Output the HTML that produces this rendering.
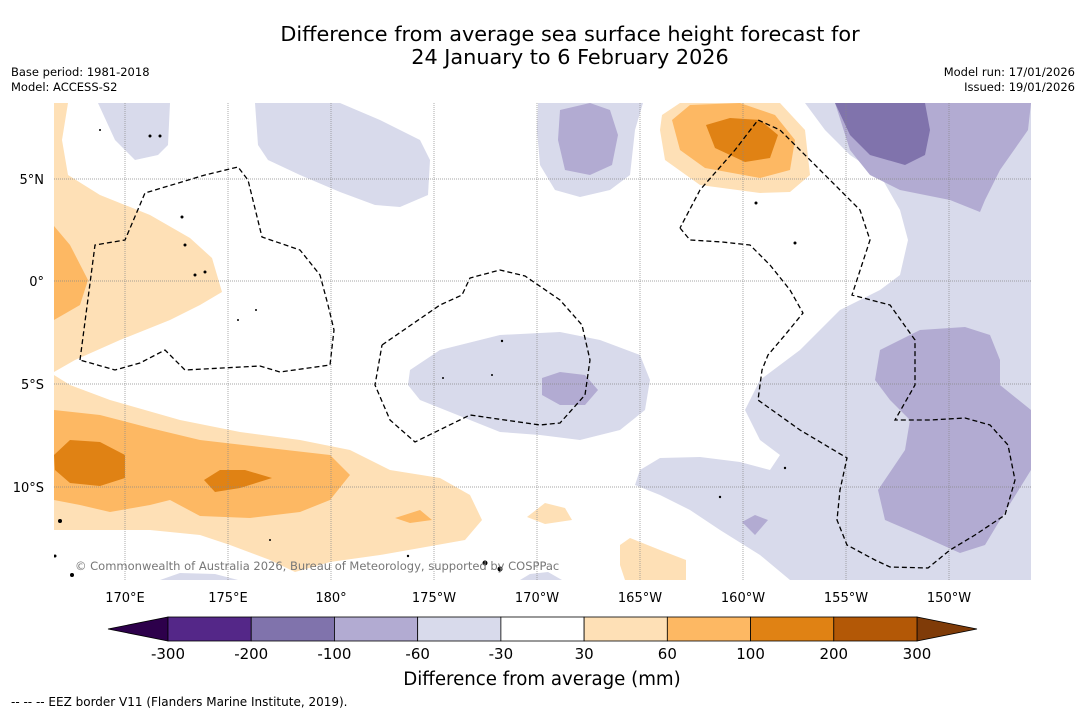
<!DOCTYPE html>
<html><head><meta charset="utf-8"><style>
body{margin:0;background:#fff;font-family:"DejaVu Sans",sans-serif;}
svg{display:block}
</style></head><body>
<svg width="1085" height="713" xmlns="http://www.w3.org/2000/svg" font-family="DejaVu Sans, sans-serif">
<rect width="1085" height="713" fill="#fff"/>
<text x="570" y="41" font-size="20.8" text-anchor="middle">Difference from average sea surface height forecast for</text>
<text x="570" y="64" font-size="20.8" text-anchor="middle">24 January to 6 February 2026</text>
<text x="11" y="76" font-size="11.5">Base period: 1981-2018</text>
<text x="11" y="91" font-size="11.5">Model: ACCESS-S2</text>
<text x="1075" y="76" font-size="11.5" text-anchor="end">Model run: 17/01/2026</text>
<text x="1075" y="91" font-size="11.5" text-anchor="end">Issued: 19/01/2026</text>
<defs><clipPath id="mc"><rect x="54" y="103" width="977" height="477"/></clipPath></defs>
<g clip-path="url(#mc)">
<g fill="#d8daeb">
<path d="M98,103 L170,103 168,145 158,155 135,160 115,140Z"/>
<path d="M255,103 L340,103 380,120 420,140 430,160 428,195 400,207 375,205 340,192 300,175 268,160 258,145Z"/>
<path d="M538,103 L643,103 635,130 630,175 610,190 580,197 555,190 540,165 537,130Z"/>
<path d="M410,370 L440,350 500,335 560,332 600,340 640,355 650,380 645,410 620,430 580,440 540,435 500,432 470,420 420,400 408,385Z"/>
<path d="M805,103 L1031,103 1031,580 790,580 760,555 720,530 690,510 660,495 635,485 640,470 660,458 700,457 740,462 770,470 780,455 760,440 745,410 760,380 800,350 840,310 860,300 880,290 900,275 908,240 900,210 880,175 850,155 825,130Z"/>
<path d="M520,580 L530,574 548,572 562,580Z"/>
<path d="M160,580 L180,573 215,574 238,580Z"/>
<path d="M378,168 L386,164 394,169 384,172Z"/>
</g>
<g fill="#b2abd2">
<path d="M560,110 L590,103 610,110 618,135 612,165 590,175 565,170 558,140Z"/>
<path d="M542,378 L560,372 585,375 598,390 585,405 560,405 542,395Z"/>
<path d="M835,103 L1031,103 1028,130 1000,170 985,200 980,212 950,200 900,190 870,175 850,150Z"/>
<path d="M880,350 L920,330 965,327 990,335 1000,360 1000,385 1031,410 1031,470 1000,520 985,545 960,553 920,535 885,520 878,490 905,450 910,420 890,400 875,380Z"/>
<path d="M742,522 L755,515 768,520 755,535Z"/>
</g>
<path fill="#8073ac" d="M835,103 L925,103 930,130 925,155 905,165 870,155 850,135Z"/>
<g fill="#fee0b6">
<path d="M54,103 L68,103 62,140 68,175 100,195 150,215 190,238 212,258 222,292 200,305 170,320 120,340 75,360 54,372Z"/>
<path d="M54,375 L70,385 110,400 180,420 240,432 300,440 350,450 390,470 440,478 470,495 482,520 465,540 420,548 380,555 330,562 295,572 270,560 230,545 200,535 150,530 100,530 54,530Z"/>
<path d="M527,517 L545,503 565,508 572,520 545,524Z"/>
<path d="M620,545 L630,538 660,550 686,560 686,580 625,580 620,565Z"/>
<path d="M662,115 L680,103 780,103 805,130 810,175 790,192 760,193 700,185 665,160 660,130Z"/>
</g>
<g fill="#fdb863">
<path d="M54,226 L70,245 88,280 80,305 54,320Z"/>
<path d="M54,410 L100,415 150,428 200,440 260,447 330,455 350,475 330,500 300,512 250,518 200,516 170,500 150,505 110,512 80,505 54,500Z"/>
<path d="M395,518 L420,510 432,520 410,523Z"/>
<path d="M672,120 L690,105 740,103 775,115 795,140 790,170 760,178 705,168 680,150Z"/>
</g>
<g fill="#e08214">
<path d="M54,455 L70,440 100,442 125,455 125,478 100,486 70,483 55,470Z"/>
<path d="M204,480 L220,470 245,470 272,478 240,488 215,492Z"/>
<path d="M706,125 L730,118 760,120 778,135 770,158 745,162 715,148Z"/>
</g>
<g stroke="#888" stroke-width="0.7" stroke-dasharray="1,1">
<line x1="125" y1="103" x2="125" y2="580"/><line x1="228" y1="103" x2="228" y2="580"/><line x1="331" y1="103" x2="331" y2="580"/><line x1="434" y1="103" x2="434" y2="580"/><line x1="537" y1="103" x2="537" y2="580"/><line x1="640" y1="103" x2="640" y2="580"/><line x1="743" y1="103" x2="743" y2="580"/><line x1="846" y1="103" x2="846" y2="580"/><line x1="949" y1="103" x2="949" y2="580"/>
<line x1="54" y1="179" x2="1031" y2="179"/><line x1="54" y1="281" x2="1031" y2="281"/><line x1="54" y1="384" x2="1031" y2="384"/><line x1="54" y1="487" x2="1031" y2="487"/>
</g>
<g fill="none" stroke="#000" stroke-width="1.3" stroke-dasharray="5,3">
<path d="M80,360 L95,245 125,240 145,193 205,175 238,167 248,180 262,237 300,250 320,275 328,305 334,330 330,365 280,372 260,366 185,370 165,350 140,363 115,370 80,360"/>
<path d="M382,345 L440,305 462,295 470,278 500,270 525,276 560,300 582,325 590,360 585,395 560,423 540,425 470,415 415,442 390,420 375,385 382,345"/>
<path d="M680,228 L690,240 722,242 750,245 770,265 790,290 803,313 785,335 768,355 762,370 758,400 800,430 847,458 840,490 837,520 847,545 875,560 890,567 928,568 950,550 975,535 1005,515 1015,480 1008,445 990,425 965,418 930,420 895,420 915,385 915,340 890,305 852,295 870,240 860,210 820,170 800,150 780,130 758,120 735,150 700,190 680,228"/>
</g>
<g fill="#000">
<circle cx="60" cy="521" r="2"/><circle cx="72" cy="575" r="2"/><circle cx="55" cy="556" r="1.5"/><circle cx="185" cy="245" r="1.5"/><circle cx="195" cy="275" r="1.5"/><circle cx="205" cy="272" r="1.5"/><circle cx="150" cy="136" r="1.5"/><circle cx="160" cy="136" r="1.5"/><circle cx="182" cy="217" r="1.5"/><circle cx="795" cy="243" r="1.5"/><circle cx="756" cy="203" r="1.5"/><circle cx="485" cy="563" r="2.5"/><circle cx="500" cy="569" r="2.5"/><circle cx="502" cy="341" r="1.2"/><circle cx="720" cy="497" r="1.2"/><circle cx="785" cy="468" r="1.2"/><circle cx="100" cy="130" r="1"/><circle cx="238" cy="320" r="1"/><circle cx="256" cy="310" r="1"/><circle cx="443" cy="378" r="1"/><circle cx="492" cy="375" r="1"/><circle cx="408" cy="556" r="1.2"/><circle cx="270" cy="540" r="1"/>
</g>
</g>
<text x="75" y="570" font-size="11.5" fill="#777">© Commonwealth of Australia 2026, Bureau of Meteorology, supported by COSPPac</text>
<g font-size="13" fill="#000">
<text x="125" y="602" text-anchor="middle">170°E</text><text x="228" y="602" text-anchor="middle">175°E</text><text x="331" y="602" text-anchor="middle">180°</text><text x="434" y="602" text-anchor="middle">175°W</text><text x="537" y="602" text-anchor="middle">170°W</text><text x="640" y="602" text-anchor="middle">165°W</text><text x="743" y="602" text-anchor="middle">160°W</text><text x="846" y="602" text-anchor="middle">155°W</text><text x="949" y="602" text-anchor="middle">150°W</text>
<text x="44" y="184" text-anchor="end">5°N</text><text x="44" y="286" text-anchor="end">0°</text><text x="44" y="389" text-anchor="end">5°S</text><text x="44" y="492" text-anchor="end">10°S</text>
</g>
<g id="cbar"></g>
<text x="542" y="685" font-size="18.2" text-anchor="middle">Difference from average (mm)</text>
<text x="11" y="706" font-size="12">--  --  -- EEZ border V11 (Flanders Marine Institute, 2019).</text>
</svg>
<script>
const levels=["-300","-200","-100","-60","-30","30","60","100","200","300"];
const colors=["#542788","#8073ac","#b2abd2","#d8daeb","#ffffff","#fee0b6","#fdb863","#e08214","#b35806"];
const ext=["#2d004b","#7f3b08"];
const g=document.getElementById('cbar');const NS="http://www.w3.org/2000/svg";
const x0=168,x1=917,y0=617,h=24,w=(x1-x0)/colors.length;
function mk(t,a){const e=document.createElementNS(NS,t);for(const k in a)e.setAttribute(k,a[k]);g.appendChild(e);return e;}
let p=mk('polygon',{points:`${x0},${y0} ${x0},${y0+h} 108,${y0+h/2}`,fill:ext[0],stroke:'#000','stroke-width':0.8});


p=mk('polygon',{points:`${x1},${y0} ${x1},${y0+h} 977,${y0+h/2}`,fill:ext[1],stroke:'#000','stroke-width':0.8});


colors.forEach((c,i)=>{const r=mk('rect',{x:x0+i*w,y:y0,width:w,height:h,fill:c,stroke:'#000','stroke-width':0.8});

});
levels.forEach((l,i)=>{const t=mk('text',{x:x0+i*w,y:659,'font-size':15,'text-anchor':'middle'});t.textContent=l;

});
</script>
</body></html>
